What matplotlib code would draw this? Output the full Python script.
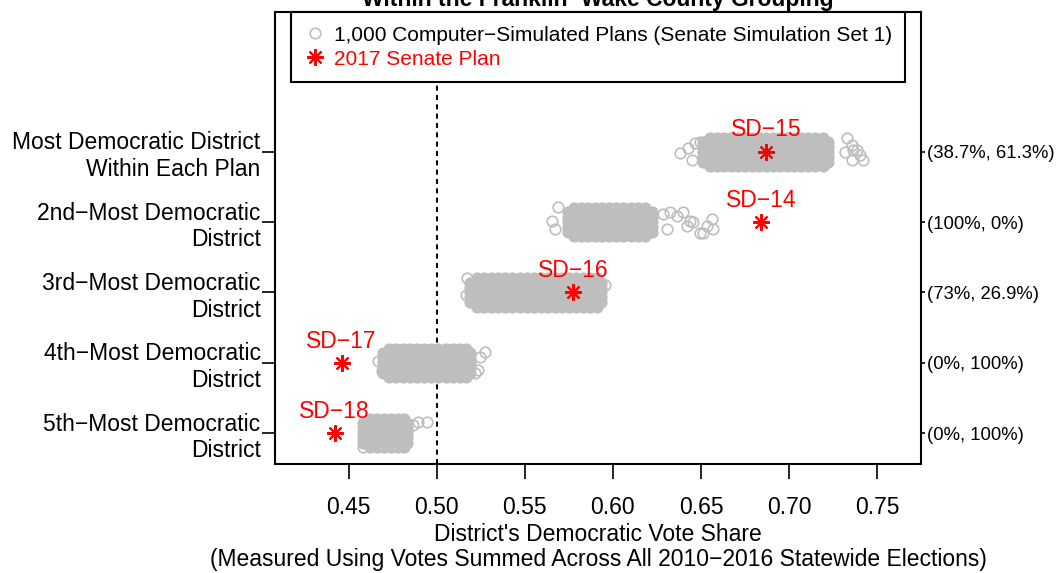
import matplotlib
matplotlib.use("Agg")
import matplotlib.pyplot as plt
from matplotlib.lines import Line2D

plt.rcParams['font.family'] = ['Liberation Sans', 'DejaVu Sans']

# ---------------- data ----------------
categories = ["Most Democratic District\nWithin Each Plan",
              "2nd\u2212Most Democratic\nDistrict",
              "3rd\u2212Most Democratic\nDistrict",
              "4th\u2212Most Democratic\nDistrict",
              "5th\u2212Most Democratic\nDistrict"]
row_pos = [5, 4, 3, 2, 1]
right_labels = ["(38.7%, 61.3%)", "(100%, 0%)", "(73%, 26.9%)", "(0%, 100%)", "(0%, 100%)"]

plan_names = ["SD\u221215", "SD\u221214", "SD\u221216", "SD\u221217", "SD\u221218"]
plan_values = [0.687, 0.684, 0.5775, 0.446, 0.442]

# dense core of simulated plans (vote shares) per rank
core_1 = [0.651, 0.655, 0.659, 0.663, 0.667, 0.671, 0.675, 0.679, 0.683, 0.687,
          0.691, 0.695, 0.699, 0.703, 0.707, 0.711, 0.715, 0.719, 0.722]
core_2 = [0.5745, 0.578, 0.582, 0.586, 0.590, 0.594, 0.598, 0.602, 0.606, 0.610,
          0.614, 0.618, 0.622]
core_3 = [0.519, 0.523, 0.527, 0.531, 0.535, 0.539, 0.543, 0.547, 0.551, 0.555,
          0.559, 0.563, 0.567, 0.571, 0.575, 0.579, 0.583, 0.587, 0.591, 0.5935]
core_4 = [0.4695, 0.473, 0.477, 0.481, 0.485, 0.489, 0.493, 0.497, 0.501, 0.505,
          0.509, 0.513, 0.5165, 0.519]
core_5 = [0.4582, 0.462, 0.466, 0.470, 0.474, 0.478, 0.4815, 0.483]
core_jitter = [-0.2, -0.14, -0.07, 0.0, 0.07, 0.14, 0.2]

# scattered simulated plans outside the dense core: (vote share, vertical jitter)
tail_1_x = [0.6379, 0.6425, 0.6465, 0.6494, 0.6448, 0.7329, 0.7358, 0.7363, 0.7386,
            0.7403, 0.7420, 0.7358, 0.7318]
tail_1_j = [-0.02, 0.05, 0.12, 0.14, -0.12, 0.19, 0.10, 0.02, 0.02, -0.05, -0.12, -0.12, 0.0]
tail_2_x = [0.5654, 0.5671, 0.5689, 0.6284, 0.6324, 0.6363, 0.6398, 0.6306, 0.6420,
            0.6455, 0.6494, 0.6534, 0.6562, 0.6568, 0.6511, 0.6438]
tail_2_j = [0.01, -0.10, 0.22, 0.11, 0.15, 0.08, 0.14, -0.10, -0.06, 0.0, -0.15,
            -0.06, 0.04, -0.10, -0.15, 0.01]
tail_3_x = [0.5172, 0.5166, 0.5955]
tail_3_j = [0.20, -0.03, 0.10]
tail_4_x = [0.5274, 0.5246, 0.5234, 0.5217, 0.4667, 0.4690]
tail_4_j = [0.16, 0.09, -0.10, -0.14, 0.02, -0.12]
tail_5_x = [0.4894, 0.4946, 0.4866, 0.4582]
tail_5_j = [0.16, 0.16, 0.12, -0.20]

cores = [core_1, core_2, core_3, core_4, core_5]
tails_x = [tail_1_x, tail_2_x, tail_3_x, tail_4_x, tail_5_x]
tails_j = [tail_1_j, tail_2_j, tail_3_j, tail_4_j, tail_5_j]

x_ticks = [0.45, 0.50, 0.55, 0.60, 0.65, 0.70, 0.75]

GRAY = "#BEBEBE"
RED = "#FF0000"
FS = 16.5

# ---------------- figure ----------------
fig = plt.figure(figsize=(10.64, 5.73), dpi=100)
ax = fig.add_axes([275/1064, 1-464.3/573, (921-275)/1064, (464.3-12)/573])

for pos, core, tx, tj in zip(row_pos, cores, tails_x, tails_j):
    xs, ys = [], []
    for j in core_jitter:
        vals = core[1:-1] if abs(j) > 0.15 else core
        for v in vals:
            xs.append(v)
            ys.append(pos + j)
    ax.plot(xs, ys, ls='none', marker='o', ms=7.6, mfc=GRAY, mec=GRAY, mew=1.2, zorder=2)
    ax.plot(tx, [pos + j for j in tj], ls='none', marker='o', ms=7.6, mfc='none',
            mec=GRAY, mew=1.2, zorder=2)

ax.axvline(0.5, color='black', lw=1.4, ls=(0, (2.6, 2.2)), zorder=1)

for pos, name, v in zip(row_pos, plan_names, plan_values):
    ax.plot([v], [pos], ls='none', marker=(8, 2, 0), ms=12, mec=RED, mew=1.5, zorder=4)
    ax.text(v, pos + 0.31, name, color=RED, fontsize=FS, ha='center', va='center', zorder=5)

ax.set_xlim(0.4082, 0.7749)
ax.set_ylim(0.5597, 6.984)
ax.set_xticks(x_ticks)
ax.set_xticklabels([f"{t:.2f}" for t in x_ticks])
ax.set_yticks(row_pos)
ax.set_yticklabels(categories, ha='right', multialignment='right')
ax.tick_params(axis='x', length=10.6, width=1.2, labelsize=FS, pad=12)
ax.tick_params(axis='y', length=9.4, width=1.2, labelsize=FS, pad=1)
for s in ax.spines.values():
    s.set_linewidth(1.5)

ax.set_xlabel("District's Democratic Vote Share\n(Measured Using Votes Summed Across All 2010\u22122016 Statewide Elections)",
              fontsize=FS, labelpad=3, linespacing=1.12)

ax2 = ax.twinx()
ax2.set_ylim(ax.get_ylim())
ax2.set_yticks(row_pos)
ax2.set_yticklabels(right_labels)
ax2.tick_params(axis='y', length=3, width=1.2, labelsize=13.3, pad=1)
for s in ax2.spines.values():
    s.set_visible(False)

handles = [Line2D([], [], ls='none', marker='o', ms=7.6, mfc='none', mec=GRAY, mew=1.2),
           Line2D([], [], ls='none', marker=(8, 2, 0), ms=12, mec=RED, mew=1.5)]
leg = ax.legend(handles, ["1,000 Computer\u2212Simulated Plans (Senate Simulation Set 1)",
                          "2017 Senate Plan"],
                loc='upper center', bbox_to_anchor=(0.5, 1.0), borderaxespad=0,
                fontsize=15, fancybox=False, framealpha=1, edgecolor='black',
                handlelength=1.0, handletextpad=0.4, borderpad=0.65, labelspacing=0.25)
leg.get_frame().set_linewidth(1.5)
leg.get_texts()[1].set_color(RED)
leg.set_zorder(10)

fig.text(598/1064, 1-6/573, "Within the Franklin\u2212Wake County Grouping", fontsize=16.5,
         fontweight='bold', ha='center', va='baseline')

fig.savefig("out.png", dpi=100)
